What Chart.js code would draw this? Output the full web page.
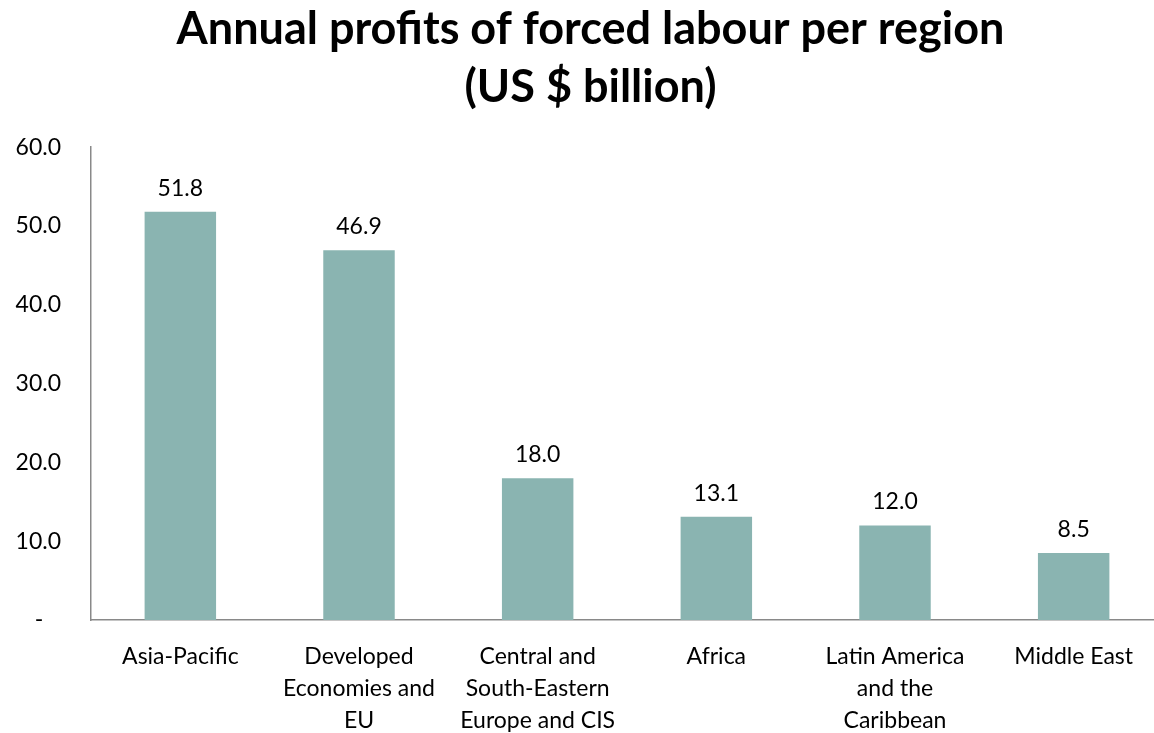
<!DOCTYPE html>
<html>
<head>
<meta charset="utf-8">
<script src="https://cdn.jsdelivr.net/npm/chart.js@4"></script>
<style>
  html, body { margin: 0; padding: 0; background: #fff; overflow: hidden; }
  #wrap { width: 1180px; height: 733px; }
</style>
</head>
<body>
<div id="wrap"><canvas id="profits"></canvas></div>
<script>
// Daten
const regions = [
  'Asia-Pacific',
  ['Developed', 'Economies and', 'EU'],
  ['Central and', 'South-Eastern', 'Europe and CIS'],
  'Africa',
  ['Latin America', 'and the', 'Caribbean'],
  'Middle East'
];
const profits = [51.8, 46.9, 18.0, 13.1, 12.0, 8.5];
const yTicks = [0, 10, 20, 30, 40, 50, 60];

const fontFamily = 'Lato, "Open Sans", sans-serif';

// Werte über den Balken
const valueLabels = {
  id: 'valueLabels',
  afterLayout(chart) {
    // Titel etwas nach rechts (Mitte der ganzen Fläche)
    chart.titleBlock.left += 9;
    chart.titleBlock.right += 9;
  },
  afterDatasetsDraw(chart) {
    const ctx = chart.ctx;
    const meta = chart.getDatasetMeta(0);
    ctx.save();
    ctx.font = '23px ' + fontFamily;
    ctx.fillStyle = '#000';
    ctx.textAlign = 'center';
    ctx.textBaseline = 'bottom';
    meta.data.forEach((bar, i) => {
      ctx.fillText(profits[i].toFixed(1), bar.x, bar.y - 12);
    });
    ctx.restore();
  }
};

new Chart(document.getElementById('profits'), {
  type: 'bar',
  data: {
    labels: regions,
    datasets: [{
      data: profits,
      backgroundColor: '#8ab4b1',
      barPercentage: 0.40,
      categoryPercentage: 1
    }]
  },
  options: {
    responsive: true,
    maintainAspectRatio: false,
    animation: false,
    layout: { padding: { top: 0, right: 17, bottom: 0, left: 0 } },
    plugins: {
      legend: { display: false },
      tooltip: { enabled: false },
      title: {
        display: true,
        text: ['Annual profits of forced labour per region', '(US $ billion)'],
        color: '#000',
        font: { family: fontFamily, size: 45, weight: 'bold', lineHeight: 1.29 },
        padding: { top: 0, bottom: 31 }
      }
    },
    scales: {
      x: {
        grid: { display: false, drawTicks: false },
        border: { display: true, color: '#898989', width: 1.5 },
        ticks: {
          color: '#000',
          font: { family: fontFamily, size: 23, lineHeight: 1.4 },
          padding: 20,
          maxRotation: 0,
          autoSkip: false
        },
        afterFit(scale) { scale.height = 113; }
      },
      y: {
        min: 0,
        max: 60,
        afterBuildTicks(scale) { scale.ticks = yTicks.map(v => ({ value: v })); },
        grid: { display: false, drawTicks: false },
        border: { display: true, color: '#898989', width: 1.5 },
        ticks: {
          color: '#000',
          font: { family: fontFamily, size: 23 },
          padding: 30,
          callback: v => v === 0 ? '-\u00a0\u00a0\u00a0' : v.toFixed(1)
        },
        afterFit(scale) { scale.width = 91; }
      }
    }
  },
  plugins: [valueLabels]
});
</script>
</body>
</html>
